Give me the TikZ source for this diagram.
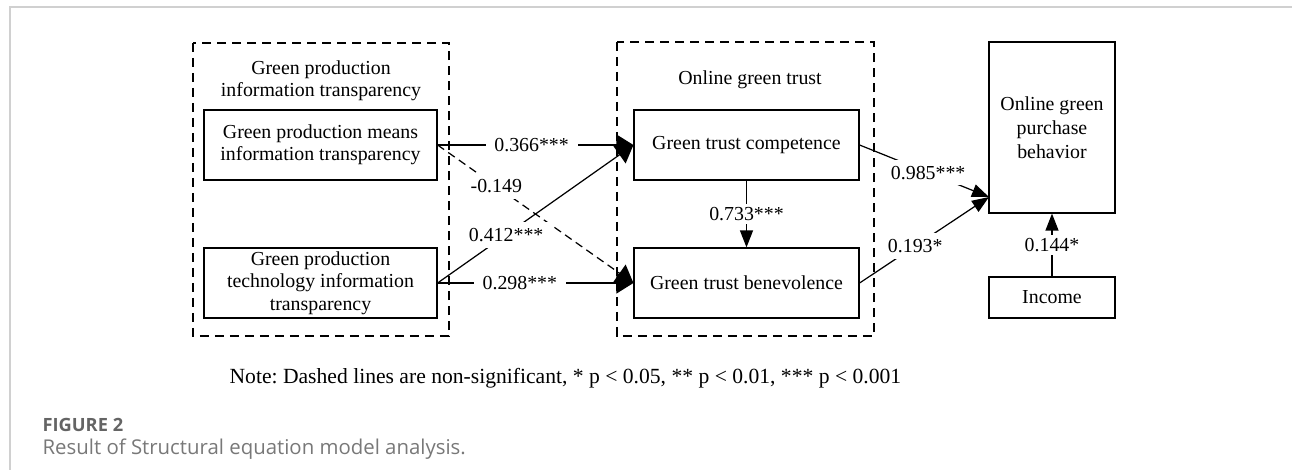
\documentclass[tikz,border=0pt]{standalone}
\usepackage{fontspec}
\setmainfont{Liberation Serif}
\newfontfamily\capfont{Open Sans}
\usepackage{tikz}
\usetikzlibrary{arrows.meta,positioning}
\definecolor{framegray}{RGB}{208,208,208}
\definecolor{capgray}{RGB}{120,120,120}
\definecolor{figgray}{RGB}{100,100,100}
\frenchspacing
\tikzset{
    varbox/.style={draw, align=center, inner sep=2pt},
    groupbox/.style={draw, dash pattern=on 0.19cm off 0.11cm},
    coef/.style={fill=white, inner xsep=5pt, inner ysep=3.5pt},
    bigtip/.style={-{Triangle[length=0.34cm, width=0.42cm]}},
    smalltip/.style={-{Triangle[length=0.34cm, width=0.26cm]}}
}

\begin{document}
\begin{tikzpicture}[x=0.02cm, y=-0.02cm, line width=0.7pt, font=\fontsize{11.3}{12.8}\selectfont]
                \useasboundingbox (0,0) rectangle (1292,470);
                %Frame
                \draw[framegray, line width=1pt] (10,470) -- (10,7) -- (1292,7);
                %Groups
                \draw[groupbox] (193,43) rectangle (449,336);
                \draw[groupbox] (617,42) rectangle (874,336);
                \node[align=center] (gpit) at (321,81) {Green production\\information transparency};
                \node (ogt) at (750,80) {Online green trust};
                %Boxes
                \node[varbox, minimum width=4.66cm, minimum height=1.4cm] (means) at (320.5,145) {Green production means\\information transparency};
                \node[varbox, minimum width=4.66cm, minimum height=1.4cm] (tech) at (320.5,283) {Green production\\technology information\\transparency};
                \node[varbox, minimum width=4.5cm, minimum height=1.4cm] (comp) at (746.5,145) {Green trust competence};
                \node[varbox, minimum width=4.5cm, minimum height=1.4cm] (bene) at (746.5,283) {Green trust benevolence};
                \node[varbox, minimum width=2.52cm, minimum height=3.42cm, font=\fontsize{11.3}{13.8}\selectfont] (behav) at (1052,127.5) {Online green\\purchase\\behavior};
                \node[varbox, minimum width=2.52cm, minimum height=0.82cm] (income) at (1052,297.5) {Income};
                \coordinate (join) at (989,197);
                %Paths
                \draw[bigtip] (means.east) -- node[coef, pos=0.48]{0.366***} (comp.west);
                \draw[bigtip, dash pattern=on 0.16cm off 0.1cm] (means.east) -- node[coef, pos=0.3]{-0.149} (bene.west);
                \draw[bigtip] (tech.east) -- node[coef, pos=0.35]{0.412***} (comp.west);
                \draw[bigtip] (tech.east) -- node[coef, pos=0.42]{0.298***} (bene.west);
                \draw[smalltip] (comp.south) -- node[coef, inner ysep=2pt]{0.733***} (bene.north);
                \draw[smalltip] (comp.east) -- node[coef, pos=0.53]{0.985***} (join);
                \draw[smalltip] (bene.east) -- node[coef, pos=0.43]{0.193*} (join);
                \draw[smalltip] (income.north) -- node[coef, inner ysep=2pt]{0.144*} (behav.south);
                %Note and caption
                \node[anchor=west, inner sep=0pt, font=\fontsize{12.3}{14}\selectfont] (note) at (229,378) {Note: Dashed lines are non-significant, * p < 0.05, ** p < 0.01, *** p < 0.001};
                \node[anchor=base west, inner sep=0pt, figgray, font=\capfont\fontsize{10.4}{12}\selectfont\bfseries] (fig) at (42,431) {FIGURE 2};
                \node[anchor=base west, inner sep=0pt, capgray, font=\capfont\fontsize{11.6}{13}\selectfont] (cap) at (42,454) {Result of Structural equation model analysis.};
            \end{tikzpicture}
\end{document}
